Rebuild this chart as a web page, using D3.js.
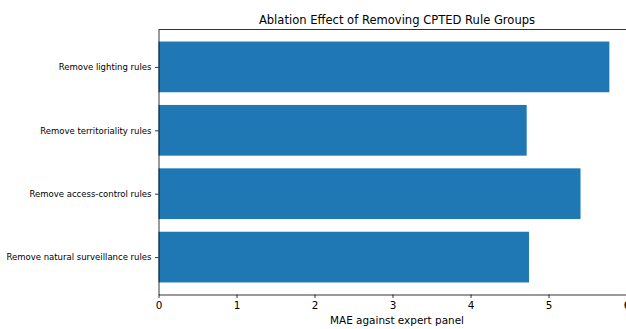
<!DOCTYPE html>
<html lang="en">
<head>
  <meta charset="utf-8">
  <title>Ablation Effect of Removing CPTED Rule Groups</title>
  <script src="https://d3js.org/d3.v7.min.js"></script>
  <style>
    body { margin: 0; background: #fff; }
    svg { display: block; font-family: "DejaVu Sans", sans-serif; }
    .domain, .tick line { stroke: #000; stroke-width: 0.8; }
  </style>
</head>
<body>
<svg id="chart" width="626" height="329"></svg>
<script>
// categories listed bottom to top, as matplotlib draws them
const groups = [
  "Remove natural surveillance rules",
  "Remove access-control rules",
  "Remove territoriality rules",
  "Remove lighting rules"
];
const mae = [4.75, 5.41, 4.72, 5.78];
const xTicks = [0, 1, 2, 3, 4, 5, 6];

const svg = d3.select("#chart");
const plotLeft = 158.5, plotRight = 635.5, plotTop = 29.5, plotBottom = 294.5;

const x = d3.scaleLinear().domain([0, 6.115]).range([plotLeft, plotRight]);
const y = d3.scaleLinear().domain([-0.59, 3.59]).range([plotBottom, plotTop]);
const barH = 0.8;

// bars
svg.selectAll(".bar")
  .data(groups)
  .enter().append("rect")
  .attr("class", "bar")
  .attr("x", x(0))
  .attr("y", (d, i) => y(i + barH / 2))
  .attr("width", (d, i) => x(mae[i]) - x(0))
  .attr("height", y(0) - y(barH))
  .attr("fill", "#1f77b4");

// spines
svg.append("line").attr("x1", plotLeft).attr("x2", plotRight).attr("y1", plotTop).attr("y2", plotTop)
  .attr("stroke", "#000").attr("stroke-width", 0.8);
svg.append("line").attr("x1", plotRight).attr("x2", plotRight).attr("y1", plotTop).attr("y2", plotBottom)
  .attr("stroke", "#000").attr("stroke-width", 0.8);

// x axis
const xAxis = svg.append("g")
  .attr("transform", "translate(0," + plotBottom + ")")
  .call(d3.axisBottom(x).tickValues(xTicks).tickFormat(d3.format("d")).tickSize(3.5).tickPadding(3.5).tickSizeOuter(0));
xAxis.selectAll("text").attr("font-size", 10.4).attr("fill", "#000").attr("font-family", "DejaVu Sans");

// y axis
const yAxis = svg.append("g")
  .attr("transform", "translate(" + plotLeft + ",0)")
  .call(d3.axisLeft(y).tickValues(d3.range(groups.length)).tickFormat(i => groups[i]).tickSize(3.5).tickPadding(3.5).tickSizeOuter(0));
yAxis.selectAll("text").attr("font-size", 8.5).attr("fill", "#000").attr("font-family", "DejaVu Sans");

// labels
svg.append("text")
  .attr("x", (plotLeft + plotRight) / 2)
  .attr("y", 24)
  .attr("text-anchor", "middle")
  .attr("font-size", 11.55)
  .text("Ablation Effect of Removing CPTED Rule Groups");

svg.append("text")
  .attr("x", (plotLeft + plotRight) / 2)
  .attr("y", 323.5)
  .attr("text-anchor", "middle")
  .attr("font-size", 10.45)
  .text("MAE against expert panel");
</script>
</body>
</html>
